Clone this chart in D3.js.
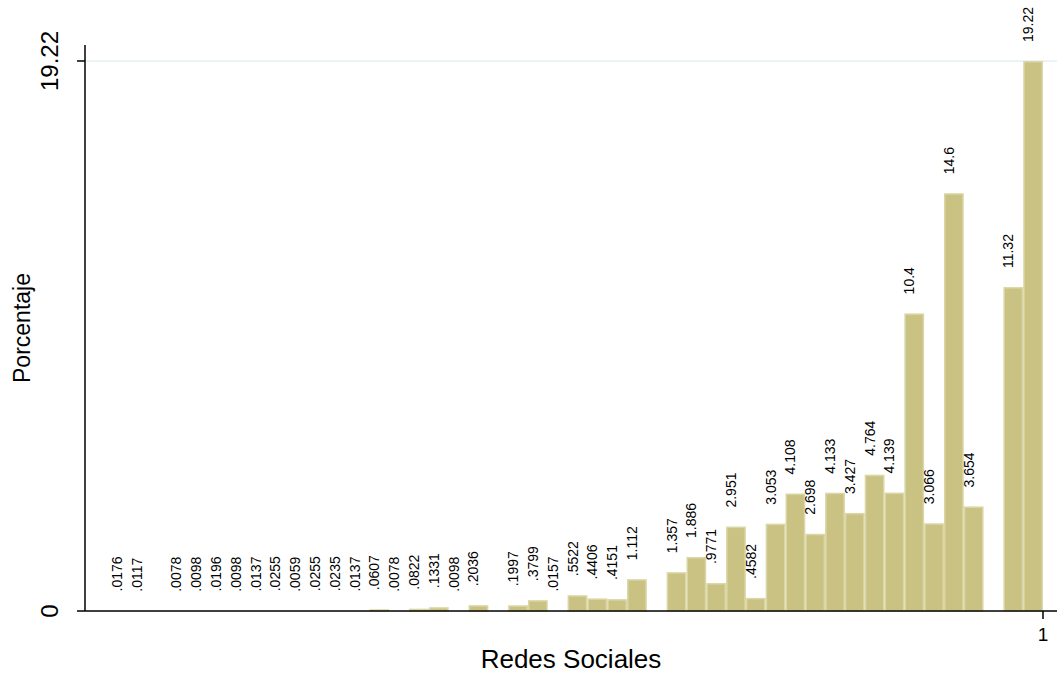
<!DOCTYPE html>
<html>
<head>
<meta charset="utf-8">
<script src="https://cdn.jsdelivr.net/npm/d3@7"></script>
<style>
  body { margin: 0; background: #fff; }
  text { font-family: "Liberation Sans", Arial, sans-serif; fill: #000; }
</style>
</head>
<body>
<div id="chart"></div>
<script>
var svgWidth = 1057;
var svgHeight = 673;

// Percent of cases in each of the 47 bins (0 to 1)
var binValues = [
    .0176, .0117, 0, .0078, .0098, .0196, .0098, .0137, .0255, .0059,
    .0255, .0235, .0137, .0607, .0078, .0822, .1331, .0098, .2036, 0,
    .1997, .3799, .0157, .5522, .4406, .4151, 1.112, 0, 1.357, 1.886,
    .9771, 2.951, .4582, 3.053, 4.108, 2.698, 4.133, 3.427, 4.764, 4.139,
    10.4, 3.066, 14.6, 3.654, 0, 11.32, 19.22
];
var xTicks = [1];
var yTicks = [0, 19.22];
var xTitle = "Redes Sociales";
var yTitle = "Porcentaje";

var nBins = binValues.length;

// plot region
var plotLeft = 85, plotRight = 1057, plotTop = 45, plotBottom = 611;

var svg = d3.select("#chart").append("svg")
    .attr("width", svgWidth)
    .attr("height", svgHeight);

var x = d3.scaleLinear().domain([0, 1]).range([112, 1043]);
var y = d3.scaleLinear().domain([0, 19.22]).range([plotBottom, 61]);

// gridline at the top tick
svg.append("line")
    .attr("x1", plotLeft).attr("x2", plotRight)
    .attr("y1", y(19.22)).attr("y2", y(19.22))
    .attr("stroke", "#e6eff1")
    .attr("stroke-width", 1.5);

var bins = binValues.map(function (v, i) {
    return { x0: i / nBins, x1: (i + 1) / nBins, value: v };
});

// bars
svg.selectAll(".bar")
    .data(bins.filter(d => d.value > 0))
    .enter()
    .append("rect")
    .attr("class", "bar")
    .attr("x", d => x(d.x0) + 0.75)
    .attr("width", d => x(d.x1) - x(d.x0) - 1.5)
    .attr("y", d => y(d.value) + 0.75)
    .attr("height", d => Math.max(0, y(0) - y(d.value) - 0.75))
    .attr("fill", "#cac283")
    .attr("stroke", "#dbd6a5")
    .attr("stroke-width", 1.5);

// bar labels
var fmt = d3.format(".4~g");
svg.selectAll(".barLabel")
    .data(bins.filter(d => d.value > 0))
    .enter()
    .append("text")
    .attr("class", "barLabel")
    .attr("transform", d => `translate(${(x(d.x0) + x(d.x1)) / 2}, ${y(d.value) - 19}) rotate(-90)`)
    .attr("font-size", "14px")
    .text(d => fmt(d.value).replace(/^0\./, "."));

// y axis
svg.append("line")
    .attr("x1", plotLeft).attr("x2", plotLeft)
    .attr("y1", plotTop).attr("y2", plotBottom)
    .attr("stroke", "#000").attr("stroke-width", 1.5);

var yTickG = svg.selectAll(".ytick")
    .data(yTicks)
    .enter()
    .append("g")
    .attr("transform", d => `translate(${plotLeft}, ${y(d)})`);
yTickG.append("line")
    .attr("x1", -8).attr("x2", 0)
    .attr("stroke", "#000").attr("stroke-width", 1.5);
yTickG.append("text")
    .attr("transform", "translate(-27, 0) rotate(-90)")
    .attr("text-anchor", "middle")
    .attr("font-size", "24px")
    .text(d => d);

// x axis
svg.append("line")
    .attr("x1", plotLeft).attr("x2", plotRight)
    .attr("y1", plotBottom).attr("y2", plotBottom)
    .attr("stroke", "#000").attr("stroke-width", 1.5);

var xTickG = svg.selectAll(".xtick")
    .data(xTicks)
    .enter()
    .append("g")
    .attr("transform", d => `translate(${x(d)}, ${plotBottom})`);
xTickG.append("line")
    .attr("y1", 0).attr("y2", 8)
    .attr("stroke", "#000").attr("stroke-width", 1.5);
xTickG.append("text")
    .attr("y", 30)
    .attr("text-anchor", "middle")
    .attr("font-size", "19px")
    .text(d => d);

// axis titles
svg.append("text")
    .attr("x", (plotLeft + plotRight) / 2)
    .attr("y", 668)
    .attr("text-anchor", "middle")
    .attr("font-size", "26px")
    .text(xTitle);

svg.append("text")
    .attr("transform", `translate(30, ${(plotTop + plotBottom) / 2}) rotate(-90)`)
    .attr("text-anchor", "middle")
    .attr("font-size", "23px")
    .text(yTitle);
</script>
</body>
</html>
